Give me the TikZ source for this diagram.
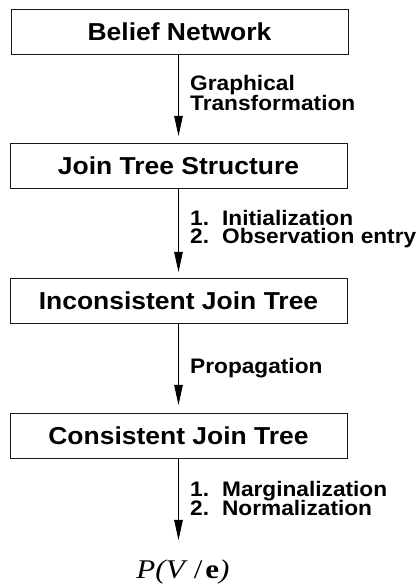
\documentclass[tikz,border=0pt]{standalone}
\usepackage{fontspec}
\setmainfont[FakeStretch=1.15]{Liberation Serif}
\newfontfamily\lblfont[FakeStretch=1.08]{Liberation Sans}
\usetikzlibrary{arrows.meta}
\tikzset{
  stagebox/.style={draw=black!90, line width=0.9pt, minimum width=337pt, minimum height=45pt, inner sep=0pt,
    font=\lblfont\bfseries\fontsize{24.5}{26}\selectfont},
  flow/.style={line width=0.8pt, -{Triangle[length=20pt,width=8.5pt]}},
  steplabel/.style={anchor=west, inner sep=0pt, align=left,
    font=\lblfont\bfseries\fontsize{21}{20}\selectfont}
}
\begin{document}
\begin{tikzpicture}[x=1pt,y=1pt]
\useasboundingbox (0,0) rectangle (420,586);
\node[stagebox] (b1) at (179.5,554.5) {Belief Network};
\node[stagebox] (b2) at (178.5,420.5) {Join Tree Structure};
\node[stagebox] (b3) at (178.5,285) {Inconsistent Join Tree};
\node[stagebox] (b4) at (178.5,150.5) {Consistent Join Tree};
\node[inner sep=0pt, font=\fontsize{27}{29}\selectfont] (res) at (183,14)
  {{\itshape P(V}\hspace{9pt}/\hspace{3pt}{\bfseries e}{\itshape )}};
\coordinate (t1) at (178.5,450);
\coordinate (t2) at (178.5,314);
\coordinate (t3) at (178.5,181);
\coordinate (t4) at (178.5,46);
\draw[flow] (b1.south -| t1) -- (t1);
\draw[flow] (b2.south -| t2) -- (t2);
\draw[flow] (b3.south -| t3) -- (t3);
\draw[flow] (b4.south -| t4) -- (t4);
\node[steplabel] (l1) at (190,492.5) {Graphical\\Transformation};
\node[steplabel] (l2) at (190,356) {\begin{tabular}{@{}l@{\hspace{13pt}}l@{}}1.&Initialization\\[-3pt]2.&Observation entry\end{tabular}};
\node[steplabel] (l3) at (190,218) {Propagation};
\node[steplabel] (l4) at (190,84.5) {\begin{tabular}{@{}l@{\hspace{13pt}}l@{}}1.&Marginalization\\[-3pt]2.&Normalization\end{tabular}};
\end{tikzpicture}
\end{document}
